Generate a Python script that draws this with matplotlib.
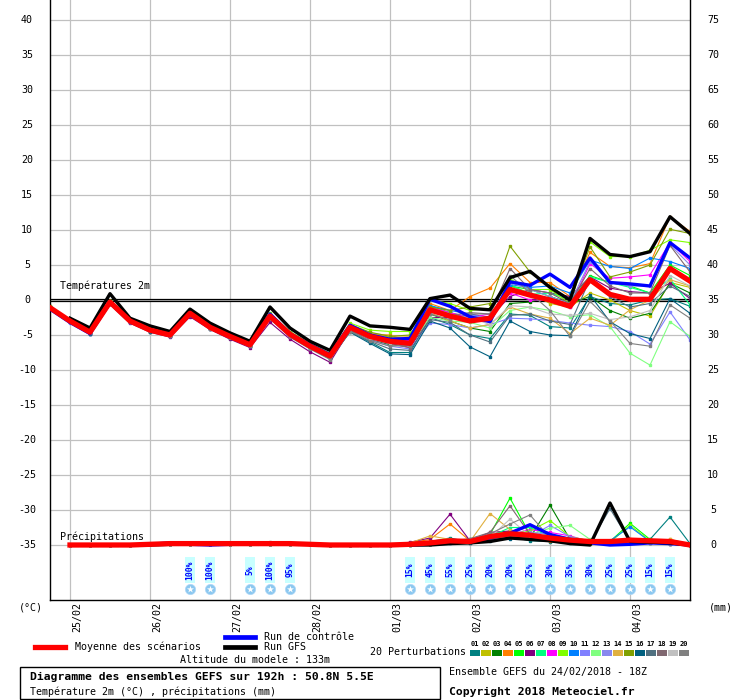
import numpy as np
import matplotlib
matplotlib.use('Agg')
import matplotlib.pyplot as plt
from matplotlib.patches import Rectangle

W, H = 740, 700
MONO = 'DejaVu Sans Mono'

# time axis: 6h steps from 24/02 18Z to 04/03 18Z (192h)
hours = np.arange(0, 193, 6)
rain_hours = hours[1:]

day_labels = ['25/02', '26/02', '27/02', '28/02', '01/03', '02/03', '03/03', '04/03']
day_hours = [6, 30, 54, 78, 102, 126, 150, 174]

left_ticks = [40, 35, 30, 25, 20, 15, 10, 5, 0, -5, -10, -15, -20, -25, -30, -35]
right_ticks = [75, 70, 65, 60, 55, 50, 45, 40, 35, 30, 25, 20, 15, 10, 5, 0]

member_colors = ['#008080', '#c0c000', '#008000', '#ff8000', '#00ff00',
                 '#800080', '#00ff80', '#ff00ff', '#80ff00', '#0080ff',
                 '#8080ff', '#80ff80', '#8888ee', '#e0b040', '#80a000',
                 '#006080', '#507080', '#806870', '#c0c0c0', '#808080']

# temperature 2m (degC), 33 steps
mean_temp = [-1.1, -3.0, -4.6, -0.3, -3.0, -4.3, -5.0, -1.9, -3.9, -5.2, -6.4,
             -2.3, -4.9, -6.6, -8.0, -3.9, -5.2, -5.9, -6.2, -1.4, -2.3, -3.0,
             -2.6, 1.5, 0.7, 0.0, -0.9, 2.9, 0.8, 0.1, 0.1, 4.5, 2.7]
gfs_temp = [np.nan, -2.6, -4.0, 0.9, -2.6, -3.7, -4.5, -1.3, -3.3, -4.7, -5.9,
            -1.0, -4.0, -5.9, -7.2, -2.3, -3.7, -3.9, -4.2, 0.2, 0.7, -1.2,
            -1.4, 3.2, 4.1, 1.8, 0.0, 8.8, 6.5, 6.2, 6.9, 11.9, 9.5]
ctrl_temp = [-1.3, -3.2, -4.8, -0.4, -3.1, -4.3, -5.0, -1.8, -3.8, -5.1, -6.2,
             -2.0, -4.8, -6.4, -7.8, -3.6, -5.0, -5.6, -5.5, 0.1, -0.9, -2.4,
             -3.1, 2.6, 2.1, 3.7, 1.8, 6.0, 2.5, 2.3, 2.0, 8.2, 6.0]
member_temp = [
    [-1.0, -3.1, -4.8, -0.4, -3.2, -4.4, -5.1, -2.2, -4.1, -5.4, -6.6, -2.6, -5.2, -6.9, -8.3, -4.5, -6.0, -7.5,
     -7.5, -2.5, -3.5, -5.0, -5.5, -2.0, -2.2, -3.8, -4.0, 0.5, -0.5, -0.7, 0.0, 0.2, -0.9],
    [-1.2, -2.9, -4.5, -0.2, -2.9, -4.2, -4.9, -1.8, -3.8, -5.1, -6.3, -2.1, -4.7, -6.4, -7.8, -3.6, -4.8, -5.3,
     -5.5, -1.0, -2.0, -2.5, -3.0, 2.0, 1.0, -0.5, -1.0, 1.0, 0.0, -1.5, -2.3, 2.5, 1.8],
    [-0.9, -3.0, -4.7, -0.5, -3.1, -4.5, -5.2, -2.0, -4.0, -5.3, -6.5, -2.5, -5.0, -6.8, -8.2, -4.2, -5.6, -6.4,
     -6.5, -2.0, -3.0, -4.0, -4.5, -0.5, -0.3, 0.5, -0.5, 0.5, -1.5, -2.6, -1.9, 2.4, 1.0],
    [-1.1, -2.8, -4.4, -0.3, -2.9, -4.2, -4.8, -1.7, -3.8, -5.0, -6.2, -2.2, -4.8, -6.5, -7.9, -3.7, -4.9, -5.0,
     -6.0, -0.5, -1.5, 0.5, 1.7, 5.2, 2.5, 2.5, 0.5, 6.8, 4.8, 4.6, 5.2, 11.9, 9.8],
    [-1.3, -3.1, -4.6, -0.2, -3.0, -4.3, -5.0, -1.9, -3.9, -5.3, -6.5, -2.3, -4.9, -6.6, -8.1, -4.0, -5.3, -6.0,
     -6.5, -0.8, -1.8, -2.5, -3.0, 2.0, 1.5, 0.5, -0.5, 3.5, 2.5, 2.0, 1.0, 5.0, 3.5],
    [-1.2, -3.2, -4.9, -0.6, -3.3, -4.6, -5.3, -2.4, -4.2, -5.6, -6.8, -3.2, -5.6, -7.4, -8.9, -4.3, -5.5, -6.2,
     -6.8, -2.5, -2.5, -2.0, -2.5, 0.5, 1.5, 1.0, 0.5, 3.3, 1.7, 1.2, 1.0, 2.4, 0.2],
    [-1.0, -2.9, -4.5, -0.3, -3.0, -4.3, -4.9, -1.9, -3.9, -5.2, -6.4, -2.3, -4.9, -6.6, -8.0, -3.8, -5.1, -5.8,
     -6.0, -1.2, -2.0, -2.8, -2.5, 2.2, 0.8, 1.0, 0.0, 3.3, 2.5, 1.8, 1.0, 3.0, -0.7],
    [-1.1, -3.0, -4.6, -0.4, -3.1, -4.4, -5.1, -2.0, -4.0, -5.3, -6.5, -2.4, -5.0, -6.7, -8.1, -3.9, -5.0, -5.6,
     -5.8, -1.0, -1.8, -2.5, -2.0, 1.0, 0.0, 0.0, -1.0, 5.2, 3.1, 3.3, 3.6, 8.2, 5.5],
    [-0.9, -2.8, -4.4, -0.1, -2.8, -4.1, -4.7, -1.6, -3.6, -4.9, -6.1, -1.9, -4.5, -6.2, -7.6, -3.3, -4.3, -4.5,
     -4.5, 0.0, -0.5, -1.5, -1.2, 3.0, 1.5, 1.5, -0.5, 8.3, 6.2, 6.2, 7.1, 8.6, 8.2],
    [-1.2, -3.1, -4.7, -0.3, -3.0, -4.3, -5.0, -1.9, -3.9, -5.2, -6.3, -2.2, -4.8, -6.5, -7.9, -3.8, -5.2, -5.9,
     -6.0, -0.8, -1.5, -2.0, -2.8, 2.2, 1.8, 2.0, 1.0, 5.7, 4.8, 4.5, 6.0, 5.5, 4.5],
    [-1.4, -3.3, -4.9, -0.5, -3.2, -4.4, -5.1, -2.0, -4.0, -5.3, -6.5, -2.4, -5.0, -6.7, -8.2, -4.1, -5.7, -6.6,
     -7.0, -3.3, -3.5, -4.0, -3.5, -2.6, -2.7, -2.9, -3.3, -3.6, -3.8, -4.5, -6.3, -1.7, -5.7],
    [-1.0, -3.0, -4.6, -0.3, -3.0, -4.4, -5.1, -2.0, -3.9, -5.2, -6.4, -2.4, -5.0, -6.7, -8.1, -4.0, -5.4, -6.1,
     -6.5, -2.5, -3.0, -3.2, -4.0, -1.5, -1.0, -1.5, -2.4, -2.1, -3.8, -7.6, -9.3, -3.1, -5.2],
    [-1.3, -3.2, -4.8, -0.4, -3.1, -4.3, -5.0, -1.8, -3.8, -5.1, -6.3, -2.1, -4.7, -6.4, -7.8, -3.7, -5.0, -5.7,
     -6.2, -1.5, -2.5, -2.2, -2.5, 2.5, 1.5, 0.5, -0.5, 5.5, 2.5, 2.0, 2.0, 7.9, 5.0],
    [-1.1, -3.0, -4.5, -0.3, -2.9, -4.2, -4.9, -1.8, -3.8, -5.1, -6.3, -2.2, -4.8, -6.5, -7.9, -3.6, -4.7, -5.1,
     -5.2, -1.8, -3.0, -4.0, -3.5, -1.0, -2.0, -2.6, -4.8, -2.6, -3.6, -1.4, 0.0, 2.9, 2.0],
    [-1.0, -2.9, -4.5, -0.2, -2.9, -4.2, -4.9, -1.7, -3.7, -5.0, -6.2, -2.1, -4.7, -6.4, -7.8, -3.5, -4.6, -5.2,
     -5.0, -1.0, -1.5, -1.0, -0.5, 7.7, 4.0, 2.0, 0.0, 7.6, 3.3, 4.0, 5.0, 10.1, 9.5],
    [-1.2, -3.1, -4.8, -0.5, -3.2, -4.5, -5.2, -2.1, -4.1, -5.4, -6.6, -2.6, -5.2, -6.9, -8.4, -4.6, -6.2, -7.7,
     -7.8, -3.0, -4.0, -6.7, -8.1, -3.0, -4.5, -5.0, -5.1, 0.7, -3.1, -4.8, -5.5, 0.2, -1.9],
    [-1.1, -3.0, -4.7, -0.4, -3.1, -4.4, -5.1, -2.1, -4.0, -5.3, -6.5, -2.5, -5.1, -6.8, -8.3, -4.4, -5.9, -7.0,
     -7.2, -2.8, -3.2, -5.0, -6.0, -2.2, -2.0, -3.0, -3.5, 3.0, 0.5, -1.0, -0.5, 2.0, 0.5],
    [-1.0, -2.9, -4.6, -0.3, -3.0, -4.3, -5.0, -2.0, -4.0, -5.3, -6.5, -2.4, -5.0, -6.7, -8.2, -4.3, -5.6, -6.3,
     -6.8, -1.5, -2.2, -1.8, -2.0, 4.5, 1.5, 1.0, -0.5, 4.5, 2.0, 1.0, 1.0, 7.8, 4.0],
    [-1.1, -3.0, -4.6, -0.3, -3.0, -4.3, -5.0, -1.9, -3.9, -5.2, -6.4, -2.3, -4.9, -6.6, -8.0, -4.1, -5.5, -6.2,
     -6.0, -1.8, -2.3, -2.5, -3.5, -0.8, -1.0, -2.0, -2.2, -1.9, -2.8, -2.4, -1.5, 3.5, 2.0],
    [-1.2, -3.1, -4.7, -0.4, -3.1, -4.4, -5.1, -2.1, -4.1, -5.4, -6.6, -2.7, -5.3, -7.0, -8.5, -4.5, -5.8, -6.6,
     -6.5, -2.0, -2.8, -2.0, -2.0, 3.5, 1.0, -1.5, -5.2, -0.2, -3.0, -6.2, -6.6, -0.7, -2.6],
]

# 6h precipitation (mm), 32 steps
mean_rain = [0, 0, 0, 0, 0.1, 0.2, 0.2, 0.2, 0.2, 0.2, 0.2, 0.2, 0.1, 0, 0, 0, 0,
             0.1, 0.3, 0.6, 0.5, 1.2, 1.6, 1.4, 1.0, 0.7, 0.5, 0.5, 0.7, 0.6, 0.5, 0]
gfs_rain = [0, 0, 0, 0, 0, 0.1, 0.1, 0.1, 0.2, 0.1, 0.2, 0.2, 0.1, 0, 0, 0, 0,
            0, 0, 0.2, 0.3, 0.5, 1.0, 0.8, 0.6, 0.2, 0.0, 6.0, 0.5, 0.4, 0.3, 0]
ctrl_rain = [0, 0, 0, 0, 0.1, 0.3, 0.1, 0, 0.1, 0.2, 0.1, 0.1, 0.1, 0, 0, 0, 0,
             0, 0.1, 0.3, 0.5, 1.0, 1.7, 2.9, 1.5, 0.8, 0.3, 0.0, 0.1, 0.3, 0.2, 0]
member_rain = [
    [0, 0, 0, 0, 0.1, 0.1, 0.2, 0.2, 0.1, 0.1, 0.2, 0.2, 0.1, 0, 0, 0, 0,
     0.2, 0.5, 1.0, 0.4, 0.8, 1.2, 0.6, 0.5, 0.3, 0.2, 0.4, 0.5, 0.8, 4.0, 0.2],
    [0, 0, 0, 0, 0.2, 0.2, 0.3, 0.1, 0.1, 0.2, 0.3, 0.2, 0.1, 0, 0, 0, 0,
     0.1, 0.4, 0.6, 0.3, 1.5, 2.0, 1.2, 0.8, 0.5, 0.3, 0.4, 0.6, 0.5, 0.3, 0.1],
    [0, 0, 0, 0, 0.1, 0.2, 0.2, 0.2, 0.2, 0.1, 0.2, 0.1, 0.1, 0, 0, 0, 0,
     0, 0.2, 0.5, 0.5, 1.0, 1.5, 1.0, 5.7, 0.8, 0.4, 0.3, 0.5, 0.4, 0.3, 0],
    [0, 0, 0, 0, 0.1, 0.1, 0.2, 0.3, 0.2, 0.2, 0.2, 0.3, 0.1, 0, 0, 0, 0,
     0.3, 0.8, 3.0, 0.6, 1.2, 1.8, 1.0, 0.6, 0.5, 0.3, 0.6, 0.9, 0.5, 0.8, 0.1],
    [0, 0, 0, 0, 0.1, 0.2, 0.2, 0.1, 0.2, 0.2, 0.1, 0.2, 0.1, 0, 0, 0, 0,
     0.1, 0.3, 0.6, 0.5, 1.5, 6.7, 1.5, 1.0, 0.8, 0.5, 0.5, 3.1, 0.8, 0.4, 0],
    [0, 0, 0, 0, 0.2, 0.2, 0.2, 0.2, 0.1, 0.2, 0.2, 0.2, 0.1, 0, 0, 0, 0,
     0.4, 1.0, 4.4, 0.6, 1.8, 2.0, 1.5, 0.8, 0.5, 0.3, 0.3, 0.5, 0.4, 0.3, 0.1],
    [0, 0, 0, 0, 0.1, 0.1, 0.2, 0.2, 0.2, 0.1, 0.2, 0.2, 0.1, 0, 0, 0, 0,
     0, 0.2, 0.5, 0.8, 1.2, 2.5, 2.5, 1.2, 0.7, 0.4, 0.3, 0.6, 0.5, 0.4, 0],
    [0, 0, 0, 0, 0.1, 0.2, 0.1, 0.2, 0.2, 0.2, 0.2, 0.2, 0.1, 0, 0, 0, 0,
     0, 0.1, 0.4, 0.3, 0.8, 1.5, 2.2, 1.8, 1.3, 0.5, 0.3, 0.5, 0.4, 0.3, 0],
    [0, 0, 0, 0, 0.1, 0.2, 0.2, 0.2, 0.1, 0.1, 0.2, 0.2, 0.1, 0, 0, 0, 0,
     0.1, 0.3, 0.5, 0.4, 1.0, 1.6, 2.0, 3.5, 1.2, 0.6, 0.4, 2.8, 0.6, 0.5, 0],
    [0, 0, 0, 0, 0.1, 0.2, 0.2, 0.1, 0.1, 0.2, 0.2, 0.2, 0.1, 0, 0, 0, 0,
     0, 0.1, 0.3, 0.3, 0.8, 1.2, 1.4, 1.0, 0.8, 0.5, 0.6, 2.6, 0.5, 0.5, 0],
    [0, 0, 0, 0, 0.1, 0.1, 0.2, 0.2, 0.2, 0.2, 0.2, 0.1, 0.1, 0, 0, 0, 0,
     0.1, 0.2, 0.4, 0.4, 1.0, 1.4, 1.2, 2.8, 1.2, 0.5, 0.3, 0.4, 0.3, 0.2, 0],
    [0, 0, 0, 0, 0.1, 0.2, 0.2, 0.2, 0.2, 0.2, 0.2, 0.2, 0.1, 0, 0, 0, 0,
     0, 0.2, 0.4, 0.3, 1.0, 1.8, 1.5, 2.4, 2.8, 0.8, 0.4, 0.6, 0.5, 0.3, 0],
    [0, 0, 0, 0, 0.1, 0.2, 0.2, 0.1, 0.2, 0.2, 0.2, 0.2, 0.1, 0, 0, 0, 0,
     0.1, 0.3, 0.5, 0.5, 1.2, 1.5, 1.8, 1.5, 1.0, 0.4, 0.4, 0.3, 0.3, 0.2, 0],
    [0, 0, 0, 0, 0.1, 0.1, 0.2, 0.2, 0.1, 0.2, 0.2, 0.2, 0.1, 0, 0, 0, 0,
     0.3, 1.3, 0.8, 0.5, 4.5, 2.2, 1.2, 0.8, 0.6, 0.3, 0.4, 0.5, 0.4, 0.8, 0.1],
    [0, 0, 0, 0, 0.1, 0.2, 0.2, 0.2, 0.2, 0.1, 0.2, 0.2, 0.1, 0, 0, 0, 0,
     0, 0.2, 0.5, 0.4, 1.0, 1.3, 1.0, 0.8, 0.6, 0.5, 0.4, 0.6, 0.5, 0.4, 0],
    [0, 0, 0, 0, 0.1, 0.1, 0.2, 0.2, 0.2, 0.2, 0.1, 0.2, 0.1, 0, 0, 0, 0,
     0.1, 0.2, 0.4, 0.3, 0.6, 0.9, 1.0, 0.9, 0.6, 0.3, 0.3, 0.4, 0.3, 0.2, 0],
    [0, 0, 0, 0, 0.1, 0.2, 0.2, 0.2, 0.1, 0.2, 0.2, 0.2, 0.1, 0, 0, 0, 0,
     0, 0.1, 0.3, 0.5, 0.8, 1.2, 1.0, 0.8, 0.5, 0.3, 5.2, 0.5, 0.4, 0.3, 0],
    [0, 0, 0, 0, 0.1, 0.2, 0.2, 0.2, 0.2, 0.3, 0.4, 0.3, 0.1, 0, 0, 0, 0,
     0.1, 0.3, 0.6, 0.9, 1.8, 5.6, 1.5, 1.0, 0.6, 0.3, 0.3, 0.4, 0.3, 0.2, 0],
    [0, 0, 0, 0, 0.1, 0.1, 0.2, 0.2, 0.2, 0.2, 0.2, 0.2, 0.1, 0, 0, 0, 0,
     0, 0.2, 0.4, 0.4, 1.1, 3.7, 1.3, 0.9, 0.6, 0.3, 0.3, 0.4, 0.3, 0.2, 0],
    [0, 0, 0, 0, 0.1, 0.2, 0.2, 0.2, 0.2, 0.2, 0.3, 0.3, 0.1, 0, 0, 0, 0,
     0.1, 0.3, 0.6, 0.8, 1.6, 3.0, 4.3, 1.0, 0.6, 0.3, 0.3, 0.4, 0.3, 0.2, 0],
]

# snow probability labels
snow_hours = [42, 48, 60, 66, 72, 108, 114, 120, 126, 132, 138, 144, 150,
              156, 162, 168, 174, 180, 186]
snow_pct = [100, 100, 5, 100, 95, 15, 45, 55, 25, 20, 20, 25, 30, 35, 30,
            25, 25, 15, 15]


def fx(x):
    return x / W


def fy(y):
    return 1 - y / H


def py(y):
    # pixel row inside the plot -> temperature units
    return (300 - y) / 7.0


fig = plt.figure(figsize=(W / 100, H / 100), dpi=100)
ax = fig.add_axes([fx(50), fy(600), 640 / W, 600 / H])
ax.set_xlim(0, 192)
ax.set_ylim(-300 / 7, 300 / 7)
ax.set_xticks([])
ax.set_yticks([])
for s in ['left', 'bottom', 'right']:
    ax.spines[s].set_linewidth(1.0)
    ax.spines[s].set_color('black')
ax.spines['top'].set_visible(False)

# grid
for h in day_hours:
    ax.axvline(h, color='#c0c0c0', lw=0.9, zorder=1)
for t in left_ticks:
    ax.axhline(t, color='#c0c0c0', lw=0.9, zorder=1)
ax.axhline(0.2, color='black', lw=0.9, zorder=1.5)
ax.axhline(-0.2, color='black', lw=0.9, zorder=1.5)

# temperatures
for c, vals in zip(member_colors, member_temp):
    ax.plot(hours, vals, color=c, lw=0.8, marker='s', ms=1.6, mec=c, zorder=2)
ax.plot(hours, ctrl_temp, color='#0000ff', lw=2.4, zorder=3)
ax.plot(hours, gfs_temp, color='black', lw=2.4, zorder=3)
ax.plot(hours, mean_temp, color='#ff0000', lw=3.8, zorder=4)

# precipitation drawn on the -35 base line (1 mm = 1 unit)
base = -35
for c, vals in zip(member_colors, member_rain):
    ax.plot(rain_hours, base + np.array(vals), color=c, lw=0.8, marker='s', ms=1.6, mec=c, zorder=2)
ax.plot(rain_hours, base + np.array(ctrl_rain), color='#0000ff', lw=2.4, zorder=3)
ax.plot(rain_hours, base + np.array(gfs_rain), color='black', lw=2.4, zorder=3)
ax.plot(rain_hours, base + np.array(mean_rain), color='#ff0000', lw=3.8, zorder=4)

ax.text(3, py(286), 'Températures 2m', fontsize=7.2, family=MONO, va='center', ha='left')
ax.text(3, py(537), 'Précipitations', fontsize=7.2, family=MONO, va='center', ha='left')

# snow probability markers
for h, p in zip(snow_hours, snow_pct):
    ax.add_patch(Rectangle((h - 1.6, py(583)), 3.2, py(557) - py(583),
                           facecolor='#c8ffff', edgecolor='none', zorder=2))
    ax.text(h, py(570), f'{p}%', rotation=90, fontsize=5.8, family=MONO,
            fontweight='bold', color='#0000ff', ha='center', va='center', zorder=3)
    ax.scatter([h], [py(589)], s=55, color='#8cc8f0', edgecolors='#b0d8f8', lw=0.5, zorder=3)
    ax.scatter([h], [py(589)], s=28, marker='*', color='white', lw=0, zorder=4)

# axis labels
for t in left_ticks:
    fig.text(fx(27), fy(300 - 7 * t), str(t), fontsize=7.2, family=MONO, ha='center', va='center')
for t, m in zip(left_ticks, right_ticks):
    fig.text(fx(713), fy(300 - 7 * t), str(m), fontsize=7.2, family=MONO, ha='center', va='center')
for h, lab in zip(day_hours, day_labels):
    fig.text(fx(50 + h * 640 / 192 + 7), fy(602), lab, rotation=90, fontsize=7.2,
             family=MONO, ha='center', va='top')
fig.text(fx(31), fy(607), '(°C)', fontsize=7.2, family=MONO, ha='center', va='center')
fig.text(fx(721), fy(607), '(mm)', fontsize=7.2, family=MONO, ha='center', va='center')

# legend
fig.add_artist(plt.Line2D([fx(35), fx(65)], [fy(647), fy(647)], color='#ff0000', lw=3.8))
fig.text(fx(75), fy(647), 'Moyenne des scénarios', fontsize=7.2, family=MONO, va='center')
fig.add_artist(plt.Line2D([fx(225), fx(255)], [fy(637), fy(637)], color='#0000ff', lw=3.4))
fig.text(fx(264), fy(637), 'Run de contrôle', fontsize=7.2, family=MONO, va='center')
fig.add_artist(plt.Line2D([fx(225), fx(255)], [fy(647), fy(647)], color='black', lw=3.4))
fig.text(fx(264), fy(647), 'Run GFS', fontsize=7.2, family=MONO, va='center')
fig.text(fx(180), fy(660), 'Altitude du modele : 133m', fontsize=7.2, family=MONO, va='center')
fig.text(fx(370), fy(652), '20 Perturbations', fontsize=7.2, family=MONO, va='center')
for k, c in enumerate(member_colors):
    x0 = 470 + 11 * k
    fig.add_artist(Rectangle((fx(x0), fy(656)), 10 / W, 6 / H, transform=fig.transFigure,
                             facecolor=c, edgecolor='none'))
    fig.text(fx(x0 + 5), fy(644), f'{k + 1:02d}', fontsize=5, family=MONO,
             fontweight='bold', ha='center', va='center')

fig.add_artist(Rectangle((fx(20), fy(699)), 420 / W, 32 / H, transform=fig.transFigure,
                         facecolor='none', edgecolor='black', lw=1.0))
fig.text(fx(30), fy(677), 'Diagramme des ensembles GEFS sur 192h : 50.8N 5.5E',
         fontsize=8.2, family=MONO, fontweight='bold', va='center')
fig.text(fx(30), fy(692), 'Température 2m (°C) , précipitations (mm)',
         fontsize=7.2, family=MONO, va='center')
fig.text(fx(449), fy(672), 'Ensemble GEFS du 24/02/2018 - 18Z', fontsize=7.2, family=MONO, va='center')
fig.text(fx(449), fy(692), 'Copyright 2018 Meteociel.fr', fontsize=8.2, family=MONO,
         fontweight='bold', va='center')

fig.savefig('out.png', dpi=100)
